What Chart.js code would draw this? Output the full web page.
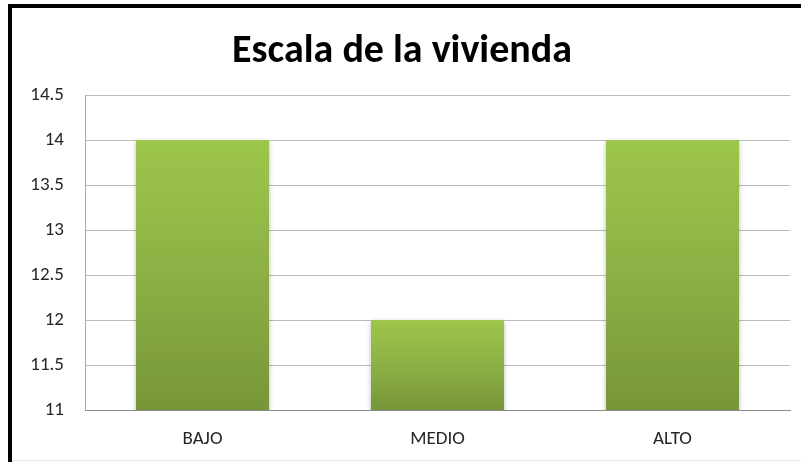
<!DOCTYPE html>
<html>
<head>
<meta charset="utf-8">
<script src="https://cdn.jsdelivr.net/npm/chart.js@4"></script>
<style>
html,body{margin:0;padding:0;background:#fff;}
#wrap{position:relative;width:801px;height:462px;}
</style>
</head>
<body>
<div id="wrap"><canvas id="c" width="801" height="462"></canvas></div>
<script>
const categories = ["BAJO", "MEDIO", "ALTO"];
const values = [14, 12, 14];
const yMin = 11;
const yMax = 14.5;
const yStep = 0.5;
const titleText = "Escala de la vivienda";

const FONT = "Carlito, Calibri, Lato, sans-serif";

const framePlugin = {
  id: 'frame',
  beforeDraw(chart) {
    const ctx = chart.ctx;
    ctx.save();
    ctx.fillStyle = '#fff';
    ctx.fillRect(0, 0, chart.width, chart.height);
    ctx.fillStyle = '#000';
    ctx.fillRect(8, 4, chart.width - 8, 4);
    ctx.fillRect(8, 4, 4, chart.height - 4);
    ctx.fillStyle = '#e6e6e6';
    ctx.fillRect(12, chart.height - 2, chart.width - 12, 1);
    ctx.restore();
  }
};

const shadowPlugin = {
  id: 'barShadow',
  beforeDatasetsDraw(chart) {
    const ctx = chart.ctx;
    ctx.save();
    ctx.shadowColor = 'rgba(0,0,0,0.35)';
    ctx.shadowBlur = 5;
    ctx.shadowOffsetX = 0;
    ctx.shadowOffsetY = 2;
  },
  afterDatasetsDraw(chart) {
    chart.ctx.restore();
  }
};

function barGradient(context) {
  const chart = context.chart;
  const area = chart.chartArea;
  if (!area) return '#8aae45';
  const v = context.raw;
  const yScale = chart.scales.y;
  const top = yScale.getPixelForValue(v);
  const bottom = yScale.getPixelForValue(yMin);
  const g = chart.ctx.createLinearGradient(0, top, 0, bottom);
  g.addColorStop(0, '#9dc64c');
  g.addColorStop(0.5, '#8cb044');
  g.addColorStop(1, '#779639');
  return g;
}

new Chart(document.getElementById('c'), {
  type: 'bar',
  data: {
    labels: categories,
    datasets: [{
      data: values,
      backgroundColor: barGradient,
      borderWidth: 0,
      barPercentage: 0.566,
      categoryPercentage: 1.0
    }]
  },
  options: {
    responsive: false,
    animation: false,
    devicePixelRatio: 1,
    layout: { padding: { left: 14, right: 11, top: 8, bottom: 11 } },
    plugins: {
      legend: { display: false },
      tooltip: { enabled: false },
      title: {
        display: true,
        text: titleText,
        color: '#000',
        font: { family: FONT, size: 40, weight: 'bold', lineHeight: 1.2 },
        padding: { top: 20, bottom: 19 }
      }
    },
    scales: {
      x: {
        afterFit(scale) { scale.height = 41; },
        grid: { display: false, drawTicks: false },
        border: { display: true, color: '#8c8c8c', width: 1 },
        ticks: { color: '#262626', font: { family: FONT, size: 19 }, padding: 18 }
      },
      y: {
        min: yMin,
        max: yMax,
        afterFit(scale) { scale.width = 71; },
        grid: { color: '#bababa', drawTicks: false, lineWidth: 1 },
        border: { display: true, color: '#a6a6a6', width: 1 },
        ticks: {
          stepSize: yStep,
          color: '#262626',
          font: { family: FONT, size: 19 },
          padding: 21,
          callback: (v) => String(v)
        }
      }
    }
  },
  plugins: [framePlugin, shadowPlugin]
});
</script>
</body>
</html>
